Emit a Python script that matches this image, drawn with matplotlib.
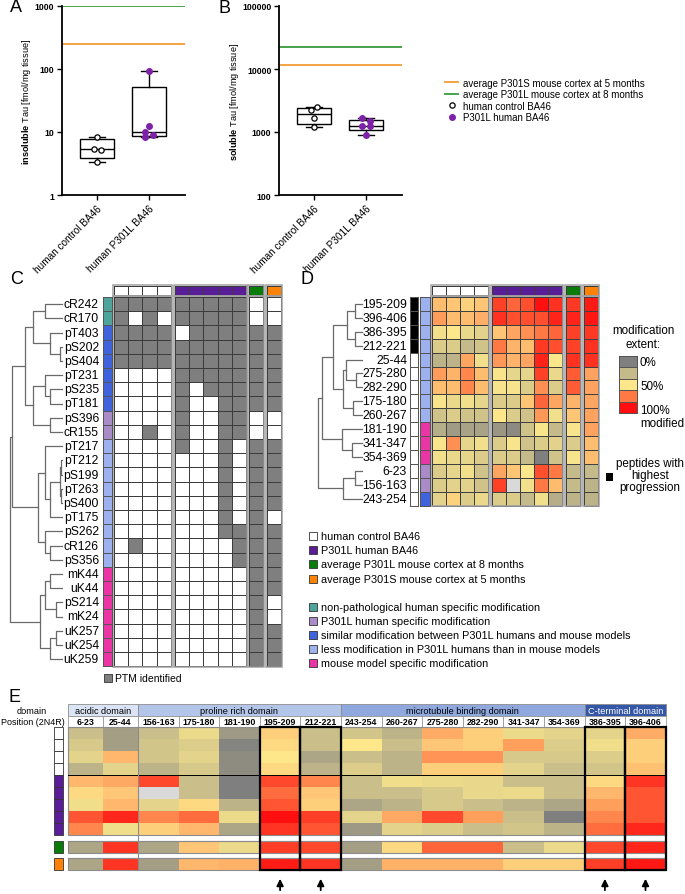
import numpy as np
import matplotlib.pyplot as plt
from matplotlib.colors import LinearSegmentedColormap, ListedColormap, Normalize
from matplotlib.lines import Line2D
from matplotlib.patches import Rectangle
from matplotlib.ticker import NullLocator

plt.rcParams['font.family'] = ['Liberation Sans', 'DejaVu Sans']
plt.rcParams['mathtext.fontset'] = 'custom'
plt.rcParams['mathtext.rm'] = 'Liberation Sans'
plt.rcParams['mathtext.bf'] = 'Liberation Sans:bold'

# ---------------- data: A / B ----------------
groups = ['human control BA46', 'human P301L BA46']
insoluble_ctrl = [8.4, 5.4, 5.2, 3.4]
insoluble_p301l = [92, 12.6, 9.9, 8.8, 8.2]
soluble_ctrl = [2520, 2230, 1670, 1215]
soluble_p301l = [1670, 1475, 1260, 1260, 906]
p301s_5m = {'insoluble': 250, 'soluble': 11700}
p301l_8m = {'insoluble': 1000, 'soluble': 22600}
# horizontal scatter of the dots
ins_ctrl_dx = [0, -0.06, 0.07, 0]
ins_p301l_dx = [0, 0, -0.07, 0.07, -0.07]
sol_ctrl_dx = [0.06, -0.06, 0, 0]
sol_p301l_dx = [-0.07, 0.07, -0.07, 0.07, 0]

# ---------------- data: C ----------------
samples = ['human control BA46'] * 4 + ['P301L human BA46'] * 5 + \
          ['average P301L mouse cortex at 8 months', 'average P301S mouse cortex at 5 months']
ptm_sites = ['cR242', 'cR170', 'pT403', 'pS202', 'pS404', 'pT231', 'pS235', 'pT181', 'pS396',
             'cR155', 'pT217', 'pT212', 'pS199', 'pT263', 'pS400', 'pT175', 'pS262', 'cR126',
             'pS356', 'mK44', 'uK44', 'pS214', 'mK24', 'uK257', 'uK254', 'uK259']
ptm_found = ['1111 11111 0 0', '1010 11111 0 0', '1111 01111 1 1', '1111 11111 1 1',
             '1111 11111 1 1', '0000 11111 1 1', '0000 10111 1 1', '0000 10011 1 1',
             '0000 10011 0 0', '0010 10011 0 0', '0000 10010 1 1', '0000 00010 1 1',
             '0000 00010 1 1', '0000 00010 1 1', '0000 00010 1 1', '0000 00010 1 0',
             '0000 00011 1 1', '0100 00001 1 1', '0000 00001 1 1', '0000 00000 1 1',
             '0000 00000 1 1', '0000 00000 1 0', '0000 00000 1 0', '0000 00000 1 1',
             '0000 00000 1 1', '0000 00000 1 1']
categories = ['non-pathological human specific modification',
              'P301L human specific modification',
              'similar modification between P301L humans and mouse models',
              'less modification in P301L humans than in mouse models',
              'mouse model specific modification']
ptm_category = [0, 0, 2, 2, 2, 2, 2, 2, 1, 1, 3, 3, 3, 3, 3, 3, 3, 3, 3, 4, 4, 4, 4, 4, 4, 4]
# dendrogram merges: (node a, node b, relative height)
ptm_merges = [(3, 4, .04), (2, 26, .23), (0, 1, .33), (28, 27, .56), (6, 7, .23), (5, 30, .33),
              (8, 9, .23), (31, 32, .56), (29, 33, .71), (11, 12, .02), (13, 14, .02),
              (35, 36, .04), (37, 15, .23), (10, 38, .33), (17, 18, .23), (16, 40, .33),
              (39, 41, .46), (34, 42, .96), (19, 20, .23), (21, 22, .12), (44, 45, .33),
              (23, 24, .12), (47, 25, .23), (46, 48, .42), (43, 49, 1.0)]

# ---------------- data: D / E ----------------
peptides = ['195-209', '396-406', '386-395', '212-221', '25-44', '275-280', '282-290', '175-180',
            '260-267', '181-190', '341-347', '354-369', '6-23', '156-163', '243-254']
extent = np.array([
    [0.60, 0.58, 0.55, 0.58, 0.88, 0.80, 0.85, 1.00, 0.92, 0.90, 0.97],
    [0.67, 0.60, 0.60, 0.63, 0.92, 0.85, 0.85, 0.85, 0.95, 0.95, 0.98],
    [0.45, 0.50, 0.42, 0.38, 0.58, 0.65, 0.70, 0.75, 0.80, 0.88, 0.90],
    [0.35, 0.35, 0.25, 0.30, 0.75, 0.62, 0.60, 0.90, 0.85, 0.88, 0.92],
    [0.22, 0.22, 0.65, 0.45, 0.68, 0.62, 0.65, 0.95, 0.50, 0.92, 0.92],
    [0.67, 0.62, 0.72, 0.60, 0.48, 0.40, 0.40, 0.88, 0.42, 0.82, 0.66],
    [0.60, 0.60, 0.72, 0.60, 0.47, 0.47, 0.35, 0.70, 0.35, 0.82, 0.66],
    [0.48, 0.42, 0.45, 0.40, 0.35, 0.35, 0.58, 0.80, 0.65, 0.62, 0.65],
    [0.30, 0.35, 0.30, 0.30, 0.50, 0.35, 0.30, 0.68, 0.45, 0.58, 0.66],
    [0.20, 0.12, 0.15, 0.15, 0.10, 0.05, 0.30, 0.48, 0.25, 0.48, 0.66],
    [0.48, 0.70, 0.40, 0.45, 0.35, 0.48, 0.30, 0.35, 0.38, 0.35, 0.60],
    [0.45, 0.42, 0.40, 0.35, 0.35, 0.35, 0.25, 0.00, 0.30, 0.48, 0.60],
    [0.35, 0.40, 0.45, 0.30, 0.65, 0.58, 0.50, 0.85, 0.75, 0.25, 0.25],
    [0.35, 0.38, 0.38, 0.30, 0.88, np.nan, 0.45, 0.75, 0.60, 0.25, 0.22],
    [0.38, 0.55, 0.35, 0.42, 0.35, 0.35, 0.25, 0.45, 0.20, 0.22, 0.22],
])
pep_category = [3] * 9 + [4] * 3 + [1] * 2 + [2]
pep_progression = [1, 1, 1, 1] + [0] * 11
pep_merges = [(0, 1, .16), (2, 3, .16), (15, 16, .34), (5, 6, .14), (4, 18, .36), (7, 8, .2),
              (19, 20, .43), (17, 21, .66), (10, 11, .23), (9, 23, .45), (22, 24, .91),
              (12, 13, .16), (26, 14, .43), (25, 27, 1.0)]
domains = ['acidic domain', 'proline rich domain', 'microtubule binding domain', 'C-terminal domain']
domain_ncols = [2, 5, 6, 2]

# ---------------- styles ----------------
purple, green, orange = '#591d97', '#0a7c0a', '#ff8205'
sample_colors = ['white'] * 4 + [purple] * 5 + [green, orange]
cat_colors = ['#4ea39b', '#a98bc8', '#3f63dc', '#9db1ef', '#ea36a4']
ext_cmap = LinearSegmentedColormap.from_list('ext', ['#7f7f7f', '#c4ba8a', '#fde88b', '#ff7a45', '#ff0f0f'])
ext_cmap.set_bad('#d9d9d9')

W, H = 685, 895
fig = plt.figure(figsize=(W / 100, H / 100), dpi=100)


def axes_px(left, top, right, bottom):
    return fig.add_axes([left / W, 1 - bottom / H, (right - left) / W, (bottom - top) / H])


def box_stats(vals):
    q1, med, q3 = np.percentile(vals, [25, 50, 75], method='weibull')
    return dict(med=med, q1=q1, q3=q3, whislo=min(vals), whishi=max(vals), fliers=[])


def tau_panel(ax, ctrl, p301l, dxc, dxp, s5, l8, ylim, ticks, word):
    ax.bxp([box_stats(ctrl), box_stats(p301l)], positions=[1, 2], widths=0.66, capwidths=0.3,
           showfliers=False, patch_artist=True,
           boxprops=dict(facecolor='white', edgecolor='black', lw=1),
           medianprops=dict(color='black', lw=1), whiskerprops=dict(lw=1), capprops=dict(lw=1))
    ax.axhline(s5, color='#f39c33', lw=1.3)
    ax.axhline(l8, color='#3c9a3c', lw=1.3)
    ax.plot(1 + np.array(dxc), ctrl, 'o', ms=3.8, mfc='white', mec='black', mew=0.9, zorder=5)
    ax.plot(2 + np.array(dxp), p301l, 'o', ms=4, color='#7d22a8', zorder=5)
    ax.set_yscale('log')
    ax.set_ylim(*ylim)
    ax.set_xlim(0.33, 2.69)
    ax.yaxis.set_minor_locator(NullLocator())
    ax.set_yticks(ticks, labels=[str(t) for t in ticks], fontweight='bold', fontsize=6.3)
    ax.set_xticks([1, 2], labels=groups, rotation=45, ha='right', rotation_mode='anchor', fontsize=7.2)
    ax.set_ylabel(r'$\mathbf{%s}$ Tau [fmol/mg tissue]' % word, fontsize=6.6, labelpad=1)
    for s in ['top', 'right']:
        ax.spines[s].set_visible(False)
    for s in ['left', 'bottom']:
        ax.spines[s].set_linewidth(1.3)
    ax.tick_params(length=3.5, width=1, pad=2)


axA = axes_px(62, 7, 185, 196)
tau_panel(axA, insoluble_ctrl, insoluble_p301l, ins_ctrl_dx, ins_p301l_dx,
          p301s_5m['insoluble'], p301l_8m['insoluble'], (1, 1000), [1, 10, 100, 1000], 'insoluble')
axB = axes_px(279, 7, 402, 196)
tau_panel(axB, soluble_ctrl, soluble_p301l, sol_ctrl_dx, sol_p301l_dx,
          p301s_5m['soluble'], p301l_8m['soluble'], (100, 100000), [100, 1000, 10000, 100000], 'soluble')

handles = [Line2D([], [], color='#f39c33', lw=1.3), Line2D([], [], color='#3c9a3c', lw=1.3),
           Line2D([], [], ls='', marker='o', ms=3.8, mfc='white', mec='black', mew=0.9),
           Line2D([], [], ls='', marker='o', ms=4, color='#7d22a8')]
fig.legend(handles, ['average P301S mouse cortex at 5 months', 'average P301L mouse cortex at 8 months',
                     'human control BA46', 'P301L human BA46'],
           loc='upper left', bbox_to_anchor=(440 / W, 1 - 74 / H), frameon=False, fontsize=7,
           handlelength=1.4, handletextpad=0.5, labelspacing=0.15, borderpad=0)

# ---------------- overlay in pixel units for C, D, E ----------------
ov = fig.add_axes([0, 0, 1, 1])
ov.set_xlim(0, W)
ov.set_ylim(H, 0)
ov.axis('off')

for lbl, (x, y) in zip('ABCDE', [(16, 7), (225, 8), (17, 279), (307, 279), (15, 698)]):
    ov.text(x, y, lbl, fontsize=13, ha='center', va='center')


def grid(x0, y0, cw, ch, vals, cmap, norm=None, ec='#3c3c3c', lw=0.6, frame=True):
    vals = np.ma.masked_invalid(np.atleast_2d(np.asarray(vals, dtype=float)))
    nr, nc = vals.shape
    xe = x0 + cw * np.arange(nc + 1)
    ye = y0 + ch * np.arange(nr + 1)
    ov.pcolormesh(xe, ye, vals, cmap=cmap, norm=norm, edgecolors=ec, linewidth=lw)
    if frame:
        ov.add_patch(Rectangle((x0 - 0.8, y0 - 0.8), nc * cw + 1.6, nr * ch + 1.6,
                               fill=False, ec='#a0a0a0', lw=1.1))


def dendrogram(merges, leaf_y, x_leaf, x_root, **kw):
    n = len(leaf_y)
    pos = {i: (x_leaf, leaf_y[i]) for i in range(n)}
    for k, (a, b, h) in enumerate(merges):
        x = x_leaf - h * (x_leaf - x_root)
        (xa, ya), (xb, yb) = pos[a], pos[b]
        ov.plot([xa, x, x, xb], [ya, ya, yb, yb], **kw)
        pos[n + k] = (x, (ya + yb) / 2)


sample_cmap = ListedColormap(sample_colors)
sample_idx = np.arange(len(samples))
cat_cmap = ListedColormap(cat_colors)
col_groups = [(0, 4), (4, 9), (9, 10), (10, 11)]

# ---- C ----
found = np.array([[int(c) for c in r.replace(' ', '')] for r in ptm_found])
c_top, c_cell = 298, 14.2
c_x = [114, 175, 249, 267]
for (a, b), x0 in zip(col_groups, c_x):
    grid(x0, 287, c_cell, 9, sample_idx[None, a:b], sample_cmap, Normalize(-0.5, 10.5))
    grid(x0, c_top, c_cell, c_cell, found[:, a:b], ListedColormap(['white', '#7f7f7f']), Normalize(0, 1))
grid(103, c_top, 9, c_cell, np.array(ptm_category)[:, None], cat_cmap, Normalize(-0.5, 4.5),
     ec='#555555', lw=0.4, frame=False)
c_rows = c_top + c_cell * (np.arange(len(ptm_sites)) + 0.5)
for y, s in zip(c_rows, ptm_sites):
    ov.text(99, y, s, fontsize=8.7, ha='right', va='center')
dendrogram(ptm_merges, c_rows, 62, 10, color='#6a6a6a', lw=0.9)
ov.add_patch(Rectangle((104, 675), 8, 8, fc='#7f7f7f', ec='#333333', lw=0.6))
ov.text(115, 679, 'PTM identified', fontsize=7.5, va='center')

# ---- D ----
d_top, d_cw, d_ch = 298, 14, 13.9
d_x = [432, 492, 566, 584]
ext_norm = Normalize(0, 1)
for (a, b), x0 in zip(col_groups, d_x):
    grid(x0, 287, d_cw, 9, sample_idx[None, a:b], sample_cmap, Normalize(-0.5, 10.5))
    grid(x0, d_top, d_cw, d_ch, extent[:, a:b], ext_cmap, ext_norm, ec='#404040', lw=0.6)
grid(410, d_top, 8.5, d_ch, np.array(pep_progression)[:, None], ListedColormap(['white', 'black']),
     Normalize(0, 1), ec='#555555', lw=0.4, frame=False)
grid(420.5, d_top, 9.5, d_ch, np.array(pep_category)[:, None], cat_cmap, Normalize(-0.5, 4.5),
     ec='#555555', lw=0.4, frame=False)
d_rows = d_top + d_ch * (np.arange(len(peptides)) + 0.5)
for y, s in zip(d_rows, peptides):
    ov.text(407, y, s, fontsize=8.8, ha='right', va='center')
dendrogram(pep_merges, d_rows, 362, 318, color='#6a6a6a', lw=0.9)

# colour key
key_vals = np.linspace(0, 1, 5)[:, None]
grid(619, 357, 18, 11.4, key_vals, ext_cmap, ext_norm, ec='#555555', lw=0.5, frame=False)
ov.text(643, 338, 'modification\nextent:', fontsize=8.4, ha='center', va='center', linespacing=1.15)
for y, t in zip([363, 387, 411, 424], ['0%', '50%', '100%', 'modified']):
    ov.text(640, y, t, fontsize=8.4, va='center')
ov.add_patch(Rectangle((606, 474), 7.5, 7.5, fc='black'))
ov.text(650, 476, 'peptides with\nhighest\nprogression', fontsize=8.4, ha='center', va='center',
        linespacing=1.05)

# legend of sample groups / categories
leg_samples = [(sample_colors[0], samples[0]), (purple, samples[4]), (green, samples[9]), (orange, samples[10])]
leg_y = [537, 551, 565, 580]
for (c, t), y in zip(leg_samples, leg_y):
    ov.add_patch(Rectangle((309, y - 4), 8, 8, fc=c, ec='#333333', lw=0.6))
    ov.text(321, y, t, fontsize=7.8, va='center')
for i, (c, t) in enumerate(zip(cat_colors, categories)):
    y = 608 + 14 * i
    ov.add_patch(Rectangle((309, y - 4), 8, 8, fc=c, ec='#333333', lw=0.6))
    ov.text(321, y, t, fontsize=7.8, va='center')

# ---- E ----
order = sorted(range(len(peptides)), key=lambda i: int(peptides[i].split('-')[0]))
e_vals = extent[order].T
e_prog = np.array(pep_progression)[order]
col_w = np.array([35, 35] + [40.6] * 13)
e_edges = 68 + np.concatenate([[0], np.cumsum(col_w)])
e_top, e_rh = 728, 12
e_blocks = [(0, 9, e_top), (9, 10, e_top + 9 * e_rh + 5.5), (10, 11, e_top + 10 * e_rh + 10.5)]
e_norm = Normalize(0.1, 1)
for a, b, y0 in e_blocks:
    ye = y0 + e_rh * np.arange(b - a + 1)
    ov.pcolormesh(e_edges, ye, np.ma.masked_invalid(e_vals[a:b]), cmap=ext_cmap, norm=e_norm)
    ov.add_patch(Rectangle((e_edges[0], y0), e_edges[-1] - e_edges[0], (b - a) * e_rh,
                           fill=False, ec='#8c8c8c', lw=0.8))
    for j, i in enumerate(range(a, b)):
        ov.add_patch(Rectangle((54, y0 + j * e_rh), 9, e_rh, fc=sample_colors[i], ec='#333333', lw=0.6))
    ov.plot([e_edges[0], e_edges[-1]], [y0, y0], color='#8c8c8c', lw=0.8)
ov.plot([e_edges[0], e_edges[-1]], [e_top + 4 * e_rh] * 2, color='black', lw=0.7)
e_bottom = e_blocks[-1][2] + e_rh

# domain header and positions
dom_colors = ['#dbe4f4', '#b3c6ea', '#8fa9df', '#3557a7']
dom_text = ['black', 'black', 'black', 'white']
start = 0
for name, n, fc, tc in zip(domains, domain_ncols, dom_colors, dom_text):
    x0, x1 = e_edges[start], e_edges[start + n]
    ov.add_patch(Rectangle((x0, 705), x1 - x0, 12, fc=fc, ec='#8c8c8c', lw=0.6))
    ov.text((x0 + x1) / 2, 711.3, name, fontsize=6.6, ha='center', va='center', color=tc)
    if start > 0:
        ov.plot([x0, x0], [e_top, e_bottom], color='#8c8c8c', lw=0.8)
    start += n
for k, i in enumerate(order):
    x0, x1 = e_edges[k], e_edges[k + 1]
    ov.add_patch(Rectangle((x0, 717), x1 - x0, 10.5, fc='white', ec='#8c8c8c', lw=0.5))
    ov.text((x0 + x1) / 2, 722.5, peptides[i], fontsize=6.4, fontweight='bold', ha='center', va='center')
    if e_prog[k]:
        ov.add_patch(Rectangle((x0, e_top), x1 - x0, e_bottom - e_top, fill=False, ec='black', lw=1.6, zorder=6))
        ov.annotate('', xy=((x0 + x1) / 2, 877), xytext=((x0 + x1) / 2, 894),
                    arrowprops=dict(arrowstyle='-|>', color='black', lw=1.3, mutation_scale=10))
ov.text(32, 711, 'domain', fontsize=6.6, ha='center', va='center')
ov.text(33, 722.5, 'Position (2N4R)', fontsize=6.5, ha='center', va='center')

fig.savefig('out.png', dpi=100)
